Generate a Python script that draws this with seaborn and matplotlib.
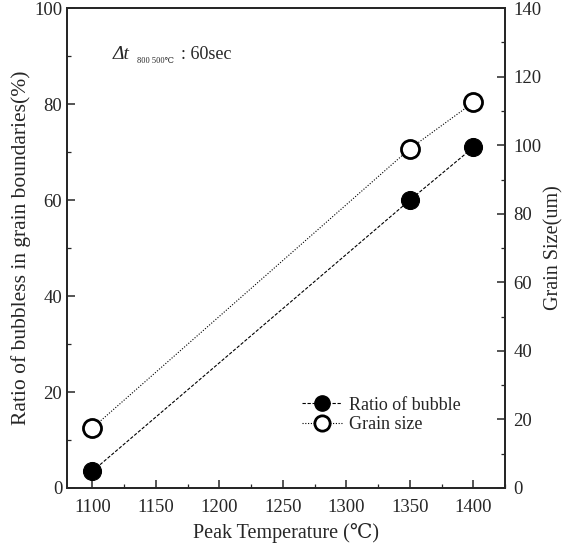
import numpy as np
import pandas as pd
import matplotlib
matplotlib.use("Agg")
import matplotlib.pyplot as plt
import seaborn as sns
from matplotlib.lines import Line2D
from matplotlib.ticker import MultipleLocator

# données
peak_temp = [1100, 1350, 1400]
ratio_bubble = [3.5, 60, 71]        # % (axe gauche)
grain_size = [17.5, 99, 112.5]      # um (axe droit)

x_ticks = [1100, 1150, 1200, 1250, 1300, 1350, 1400]
left_ticks = [0, 20, 40, 60, 80, 100]
right_ticks = [0, 20, 40, 60, 80, 100, 120, 140]

sns.set_theme(style="ticks")
plt.rcParams["font.family"] = ["Liberation Serif", "DejaVu Serif"]
plt.rcParams["xtick.direction"] = "in"
plt.rcParams["ytick.direction"] = "in"

df = pd.DataFrame({"temp": peak_temp, "ratio": ratio_bubble, "grain": grain_size})

fig = plt.figure(figsize=(5.65, 5.48), dpi=100)
ax = fig.add_axes([0.1186, 0.1095, 0.7754, 0.8755])
ax2 = ax.twinx()

sns.lineplot(data=df, x="temp", y="ratio", ax=ax, color="black", lw=0.8,
             linestyle=(0, (3, 1.5)), marker="o", markersize=13,
             markerfacecolor="black", markeredgecolor="black")
sns.lineplot(data=df, x="temp", y="grain", ax=ax2, color="black", lw=0.8,
             linestyle=(0, (1, 1.5)), marker="o", markersize=13,
             markerfacecolor="white", markeredgecolor="black", markeredgewidth=2)

ax.set_xlim(1080, 1425)
ax.set_ylim(0, 100)
ax2.set_ylim(0, 140)
ax.set_xticks(x_ticks)
ax.set_yticks(left_ticks)
ax2.set_yticks(right_ticks)
ax.xaxis.set_minor_locator(MultipleLocator(25))
ax.yaxis.set_minor_locator(MultipleLocator(10))
ax2.yaxis.set_minor_locator(MultipleLocator(10))

for a in (ax, ax2):
    for s in a.spines.values():
        s.set_visible(True)
        s.set_linewidth(1.3)
    a.tick_params(which="major", length=6, width=1.1, labelsize=13.5)
    a.tick_params(which="minor", length=3, width=0.9)
ax.tick_params(axis="x", pad=8)
ax2.tick_params(axis="y", pad=6)

ax.set_xlabel("Peak Temperature (℃)", fontsize=14.5, labelpad=5)
ax.set_ylabel("Ratio of bubbless in grain boundaries(%)", fontsize=15.5, labelpad=2)
ax2.set_ylabel("Grain Size(um)", fontsize=14.5, labelpad=2)

# annotation Δt 800-500℃
ax.text(0.105, 0.895, "Δt", transform=ax.transAxes, fontsize=14, style="italic")
ax.text(0.16, 0.886, "800 500℃", transform=ax.transAxes, fontsize=6)
ax.text(0.26, 0.895, ": 60sec", transform=ax.transAxes, fontsize=13)

handles = [
    Line2D([], [], color="black", lw=0.8, linestyle=(0, (3, 1.5)), marker="o",
           markersize=11, markerfacecolor="black"),
    Line2D([], [], color="black", lw=0.8, linestyle=(0, (1, 1.5)), marker="o",
           markersize=11, markerfacecolor="white", markeredgewidth=2),
]
ax.legend(handles, ["Ratio of bubble", "Grain size"], loc="lower left",
          bbox_to_anchor=(0.5, 0.08), frameon=False, fontsize=13,
          handlelength=2.2, handletextpad=0.4, labelspacing=0.15)

plt.savefig("out.png", dpi=100)
